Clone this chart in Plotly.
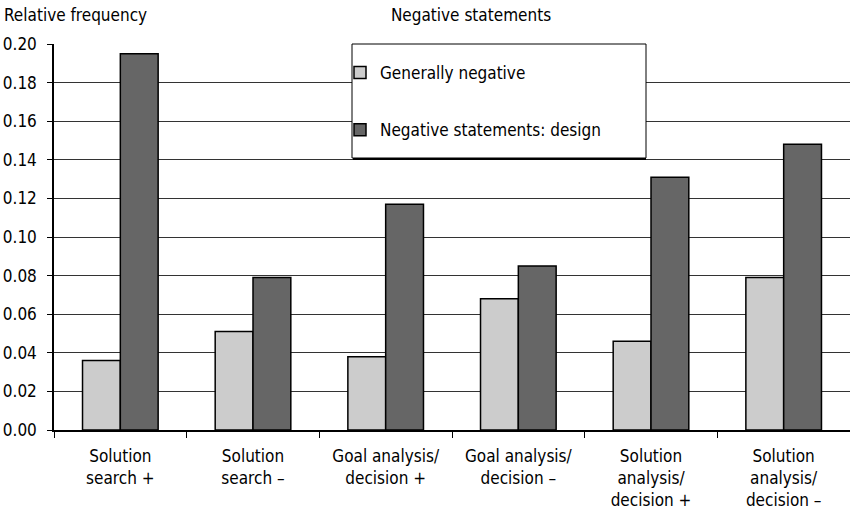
import plotly.graph_objects as go

categories = ["Solution<br>search +", "Solution<br>search –", "Goal analysis/<br>decision +",
              "Goal analysis/<br>decision –", "Solution<br>analysis/<br>decision +",
              "Solution<br>analysis/<br>decision –"]
generally_negative = [0.036, 0.051, 0.038, 0.068, 0.046, 0.079]
negative_design = [0.195, 0.079, 0.117, 0.085, 0.131, 0.148]
y_ticks = [0.00, 0.02, 0.04, 0.06, 0.08, 0.10, 0.12, 0.14, 0.16, 0.18, 0.20]
y_tick_labels = [f"{v:.2f}" for v in y_ticks]

FONT = "Liberation Sans Narrow, DejaVu Sans Condensed, Arial Narrow, sans-serif"

fig = go.Figure()
fig.add_trace(go.Bar(x=categories, y=generally_negative, name="Generally negative",
                     marker=dict(color="#cccccc", line=dict(color="black", width=1.5)),
                     legendgroup="a"))
fig.add_trace(go.Bar(x=categories, y=negative_design, name="Negative statements: design",
                     marker=dict(color="#666666", line=dict(color="black", width=1.5)),
                     legendgroup="b"))

W, H = 850, 523
L, R, T, B = 54, 0, 44, 93
pw = W - L - R
ph = H - T - B

def px_x(x):
    return (x - L) / pw

def px_y(y):
    return (H - B - y) / ph

fig.update_layout(
    width=W, height=H,
    margin=dict(l=L, r=R, t=T, b=B, autoexpand=False),
    paper_bgcolor="white", plot_bgcolor="white",
    font=dict(family=FONT, size=17, color="black"),
    barmode="group", bargap=0.43, bargroupgap=0,
    title=dict(text="Negative statements", x=471 / W, xanchor="center",
               y=1 - 15 / H, yanchor="middle", font=dict(size=17)),
    legend=dict(x=px_x(340), y=px_y(55), xanchor="left", yanchor="top",
                bgcolor="rgba(0,0,0,0)", borderwidth=0,
                traceorder="grouped", tracegroupgap=32,
                font=dict(size=17)),
    showlegend=True,
)

fig.update_xaxes(type="category", tickson="boundaries", ticks="outside", ticklen=6,
                 tickcolor="black", showline=True, linecolor="black", linewidth=1.5,
                 showgrid=False, tickfont=dict(size=17), automargin=False,
                 ticklabelstandoff=10)
fig.update_yaxes(range=[0, 0.2], tickvals=y_ticks, ticktext=y_tick_labels,
                 ticks="outside", ticklen=5, tickcolor="black",
                 showline=True, linecolor="black", linewidth=1.5,
                 showgrid=True, gridcolor="#333333", gridwidth=1,
                 zeroline=False, ticklabelstandoff=7, tickfont=dict(size=17),
                 automargin=False)

# Legend frame
fig.add_shape(type="rect", xref="paper", yref="paper",
              x0=px_x(352), x1=px_x(646), y0=px_y(158), y1=px_y(44),
              fillcolor="white", line=dict(color="black", width=1), layer="above")
fig.add_shape(type="line", xref="paper", yref="paper",
              x0=px_x(353), x1=px_x(646), y0=px_y(159), y1=px_y(159),
              line=dict(color="black", width=2), layer="above")

fig.add_annotation(text="Relative frequency", xref="paper", yref="paper",
                   x=px_x(2), y=px_y(15), xanchor="left", yanchor="middle",
                   showarrow=False, font=dict(size=17))

fig.write_html("out.html", config={"displayModeBar": False},
               post_script="document.body.style.margin='0';document.body.style.overflow='hidden';")
